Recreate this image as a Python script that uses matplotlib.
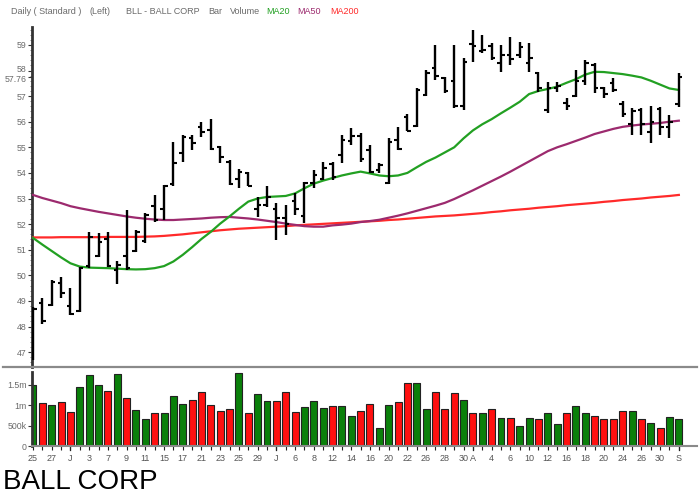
import matplotlib
matplotlib.use("Agg")
import matplotlib.pyplot as plt
from matplotlib.lines import Line2D
from matplotlib.transforms import ScaledTranslation
import numpy as np

plt.rcParams['font.family'] = ['Liberation Sans', 'DejaVu Sans']

# ---- data ----
opens = [47.0, 48.9, 48.85, 49.7, 48.8, 48.6, 50.35, 50.76, 51.4, 50.2,
         50.75, 50.95, 51.35, 52.7, 52.58, 53.55, 54.77, 55.36, 55.8, 55.68,
         55.03, 54.44, 53.75, 54.0, 52.6, 52.75, 52.6, 52.23, 52.9, 52.3,
         53.6, 53.78, 54.35, 54.7, 55.25, 55.45, 54.9, 54.1, 53.6, 55.3,
         56.2, 55.85, 57.05, 58.1, 57.7, 57.6, 56.6, 59.05, 58.75, 58.95,
         58.3, 58.6, 58.6, 58.3, 57.9, 56.45, 57.3, 56.75, 57.0, 57.6,
         58.2, 57.3, 57.5, 56.7, 55.9, 56.45, 55.6, 56.5, 55.8, 56.7]
highs = [48.75, 49.1, 49.82, 49.95, 49.5, 50.34, 51.7, 51.64, 51.7, 50.55,
         52.55, 51.77, 52.45, 53.14, 53.53, 55.2, 55.48, 55.48, 55.97, 56.1,
         55.05, 54.5, 54.14, 54.05, 53.07, 53.5, 52.82, 52.75, 53.2, 53.66,
         54.12, 54.44, 54.44, 55.5, 55.75, 55.55, 55.1, 54.38, 55.36, 55.81,
         56.3, 57.31, 58.02, 59.0, 57.76, 59.0, 58.48, 59.59, 59.39, 59.07,
         59.0, 59.32, 59.13, 59.07, 57.96, 57.57, 57.57, 56.92, 58.02, 58.41,
         58.29, 57.37, 57.7, 56.79, 56.53, 56.53, 56.62, 56.59, 56.27, 57.9]
lows = [46.7, 48.1, 48.8, 49.1, 48.45, 48.55, 50.3, 50.73, 50.32, 49.65,
        50.2, 50.93, 51.28, 52.1, 52.16, 53.5, 54.44, 54.9, 55.42, 54.9,
        54.38, 53.53, 53.4, 53.47, 52.29, 52.68, 51.38, 51.58, 52.36, 52.05,
        53.42, 53.73, 53.73, 54.4, 55.1, 54.44, 53.99, 53.99, 53.55, 54.9,
        55.63, 55.81, 57.0, 57.63, 57.11, 56.53, 56.46, 58.35, 58.68, 58.4,
        57.96, 58.22, 58.48, 57.96, 57.18, 56.33, 57.18, 56.46, 56.98, 57.44,
        57.11, 56.92, 57.18, 56.2, 55.48, 55.48, 55.16, 55.48, 55.36, 56.59]
closes = [48.7, 48.2, 49.75, 49.3, 48.5, 50.3, 51.5, 51.32, 50.38, 50.4,
          50.3, 51.7, 52.35, 52.15, 53.47, 54.38, 55.42, 55.16, 55.6, 54.93,
          54.64, 53.56, 54.05, 53.5, 52.75, 53.05, 52.23, 52.0, 52.6, 53.6,
          53.9, 54.2, 53.85, 55.3, 55.45, 54.55, 54.05, 54.3, 55.2, 54.95,
          55.65, 57.24, 57.9, 57.8, 57.2, 56.6, 58.35, 58.95, 58.8, 58.5,
          58.6, 58.45, 58.9, 58.5, 57.3, 57.3, 57.4, 56.6, 57.6, 58.3,
          57.3, 57.1, 57.25, 56.3, 56.4, 55.9, 56.0, 55.8, 56.0, 57.76]

ma20 = [51.46, 51.2, 50.95, 50.7, 50.47, 50.34, 50.3, 50.29, 50.28, 50.26,
        50.24, 50.23, 50.24, 50.28, 50.36, 50.54, 50.8, 51.1, 51.42, 51.7,
        52.02, 52.3, 52.6, 52.88, 53.0, 53.06, 53.08, 53.1, 53.2, 53.4,
        53.58, 53.7, 53.8, 53.9, 53.98, 54.05, 53.98, 53.9, 53.87, 53.9,
        54.0, 54.22, 54.43, 54.6, 54.8, 55.0, 55.35, 55.66, 55.9, 56.1,
        56.33, 56.55, 56.78, 57.08, 57.2, 57.28, 57.37, 57.52, 57.66, 57.84,
        57.95, 57.94, 57.9, 57.86, 57.8, 57.73, 57.6, 57.45, 57.3, 57.24]
ma50 = [53.14, 53.02, 52.92, 52.82, 52.7, 52.62, 52.55, 52.48, 52.42, 52.36,
        52.3, 52.25, 52.21, 52.18, 52.16, 52.16, 52.18, 52.2, 52.22, 52.25,
        52.27, 52.28, 52.25, 52.22, 52.18, 52.13, 52.08, 52.02, 51.97, 51.92,
        51.9, 51.9, 51.95, 51.98, 52.02, 52.08, 52.12, 52.17, 52.25, 52.33,
        52.42, 52.52, 52.62, 52.72, 52.83, 52.98, 53.15, 53.32, 53.5, 53.68,
        53.86, 54.05, 54.25, 54.45, 54.65, 54.85, 55.0, 55.12, 55.25, 55.38,
        55.52, 55.62, 55.72, 55.8, 55.85, 55.89, 55.92, 55.95, 56.0, 56.04]
ma200 = [51.48, 51.48, 51.48, 51.49, 51.49, 51.49, 51.49, 51.49, 51.5, 51.5,
         51.5, 51.5, 51.51, 51.52, 51.54, 51.57, 51.6, 51.64, 51.68, 51.72,
         51.76, 51.79, 51.82, 51.84, 51.86, 51.88, 51.9, 51.92, 51.95, 51.97,
         51.99, 52.01, 52.03, 52.05, 52.07, 52.09, 52.11, 52.13, 52.16, 52.18,
         52.21, 52.24, 52.27, 52.3, 52.32, 52.34, 52.37, 52.4, 52.43, 52.47,
         52.5, 52.54, 52.57, 52.6, 52.64, 52.67, 52.7, 52.74, 52.77, 52.8,
         52.83, 52.87, 52.9, 52.94, 52.97, 53.0, 53.04, 53.07, 53.1, 53.14]

volume_m = [1.5, 1.04, 1.0, 1.07, 0.83, 1.44, 1.72, 1.5, 1.33, 1.76,
            1.18, 0.88, 0.65, 0.81, 0.8, 1.22, 1.02, 1.12, 1.32, 1.01,
            0.86, 0.91, 1.78, 0.8, 1.26, 1.1, 1.1, 1.32, 0.83, 0.96,
            1.1, 0.93, 0.98, 0.98, 0.72, 0.86, 1.03, 0.45, 1.0, 1.07,
            1.53, 1.53, 0.91, 1.32, 0.91, 1.29, 1.11, 0.8, 0.8, 0.9,
            0.69, 0.68, 0.5, 0.69, 0.65, 0.81, 0.54, 0.81, 0.97, 0.81,
            0.74, 0.65, 0.65, 0.85, 0.85, 0.66, 0.57, 0.44, 0.7, 0.65]
volume_up = "GRGRRGGGRGRGGRGGGRRRRRGRGGRRRGGGRGGRRGGRRGGRRRGRGRGRGGRGGRGGRRRRGRGRGG"

date_labels = ["25", "", "27", "", "J", "", "3", "", "7", "", "9", "", "11", "", "15", "",
               "17", "", "21", "", "23", "", "25", "", "29", "", "J", "", "6", "", "8", "",
               "12", "", "14", "", "16", "", "20", "", "22", "", "26", "", "28", "", "30",
               "A", "", "4", "", "6", "", "10", "", "12", "", "16", "", "18", "", "20", "",
               "24", "", "26", "", "30", "", "S"]
month_starts = [4, 26, 47, 69]

price_ticks = [47, 48, 49, 50, 51, 52, 53, 54, 55, 56, 57, 58, 59]
last_close = 57.76
last_close_label = "57.76"
vol_ticks = [0, 0.5, 1.0, 1.5]
vol_tick_labels = ["0", "500k", "1m", "1.5m"]

# ---- figure ----
W, H = 699, 496
fig = plt.figure(figsize=(W / 100, H / 100), dpi=100)

def fx(px):
    return px / W

def fy(py):
    return 1 - py / H

ax_l, ax_r = 32, 697
ax = fig.add_axes([fx(ax_l), fy(366.7), fx(ax_r - ax_l), fy(27) - fy(366.7)])
axv = fig.add_axes([fx(ax_l), fy(446), fx(ax_r - ax_l), fy(372) - fy(446)])

n = len(closes)
xs = np.arange(n)
spacing = 9.36
x0 = -(33 - ax_l) / spacing
x1 = x0 + (ax_r - ax_l) / spacing

gray_txt = '#6a6a6a'

# price bars
tick_w = 0.38
for i in range(n):
    ax.plot([xs[i], xs[i]], [lows[i], highs[i]], color='black', lw=1.7,
            solid_capstyle='butt', zorder=4)
    ax.plot([xs[i] - tick_w, xs[i]], [opens[i], opens[i]], color='black', lw=1.5,
            solid_capstyle='butt', zorder=4)
    ax.plot([xs[i], xs[i] + tick_w], [closes[i], closes[i]], color='black', lw=1.5,
            solid_capstyle='butt', zorder=4)

ax.plot(xs, ma200, color='#ff2a2a', lw=1.6, zorder=3)
ax.plot(xs, ma50, color='#9c2a6e', lw=1.6, zorder=3)
ax.plot(xs, ma20, color='#22a022', lw=1.6, zorder=3)

ax.set_xlim(x0, x1)
ax.set_ylim(46.43, 59.70)
for s in ['top', 'right', 'bottom']:
    ax.spines[s].set_visible(False)
ax.spines['left'].set_color('#333333')
ax.spines['left'].set_linewidth(2.0)
ax.set_xticks([])
yt = price_ticks + [last_close]
ax.set_yticks(yt)
ax.set_yticklabels([str(t) for t in price_ticks] + [last_close_label])
ax.tick_params(axis='y', length=3, width=0.8, color='#333333', labelsize=6.3,
               labelcolor=gray_txt, pad=1)
ax.set_yticks(np.arange(46.6, 59.7, 0.2), minor=True)
ax.tick_params(axis='y', which='minor', length=1.5, width=0.5, color='#555555')
# keep the "58" and "57.76" labels apart, as in the reference
for lab in ax.get_yticklabels():
    if lab.get_text() == "58":
        lab.set_transform(lab.get_transform() + ScaledTranslation(0, 2.5 / 100, fig.dpi_scale_trans))
    elif lab.get_text() == last_close_label:
        lab.set_transform(lab.get_transform() + ScaledTranslation(0, -2.0 / 100, fig.dpi_scale_trans))

# volume bars
for i in range(n):
    col = '#0a800a' if volume_up[i] == 'G' else '#ff1010'
    axv.bar(xs[i] + 0.1, volume_m[i], width=0.74, color='#b0b0b0', zorder=1)
    axv.bar(xs[i], volume_m[i], width=0.74, color=col, edgecolor='#222222',
            linewidth=0.8, zorder=2)
axv.set_xlim(x0, x1)
axv.set_ylim(0, 1.805)
for s in ['top', 'right']:
    axv.spines[s].set_visible(False)
axv.spines['left'].set_color('#333333')
axv.spines['left'].set_linewidth(2.0)
axv.spines['bottom'].set_color('#8a8a8a')
axv.spines['bottom'].set_linewidth(1.5)
axv.set_yticks(vol_ticks)
axv.set_yticklabels(vol_tick_labels)
axv.tick_params(axis='y', length=3, width=0.8, color='#333333', labelsize=6.3,
                labelcolor=gray_txt, pad=1)
axv.set_xticks(xs)
axv.set_xticklabels(date_labels)
axv.tick_params(axis='x', length=3, width=0.8, color='#222222', labelsize=6.5,
                labelcolor='#555555', pad=3)
for i in month_starts:
    axv.plot([xs[i], xs[i]], [0, -0.09], color='#222222', lw=0.9, clip_on=False)

# separator line between panels
fig.add_artist(Line2D([fx(3), fx(697)], [fy(366.7), fy(366.7)], color='#8a8a8a', lw=1.6))

# header
hdr_y = fy(12)
hs = 6.5
fig.text(fx(11), hdr_y, "Daily ( Standard )", fontsize=hs, color=gray_txt, va='center')
fig.text(fx(90), hdr_y, "(Left)", fontsize=hs, color=gray_txt, va='center')
fig.text(fx(126), hdr_y, "BLL - BALL CORP", fontsize=hs, color=gray_txt, va='center')
fig.text(fx(208), hdr_y, "Bar", fontsize=hs, color=gray_txt, va='center')
fig.text(fx(230), hdr_y, "Volume", fontsize=hs, color=gray_txt, va='center')
fig.text(fx(266), hdr_y, "MA20", fontsize=hs, color='#22a022', va='center')
fig.text(fx(297), hdr_y, "MA50", fontsize=hs, color='#9c2a6e', va='center')
fig.text(fx(330), hdr_y, "MA200", fontsize=hs, color='#ff2a2a', va='center')

fig.text(fx(3), fy(482), "BALL CORP", fontsize=20, color='black', va='center')

fig.savefig("out.png", dpi=100)
